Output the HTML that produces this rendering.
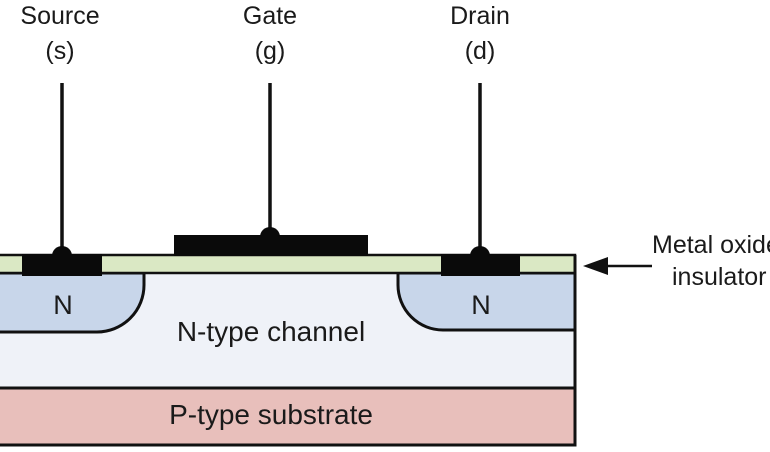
<!DOCTYPE html>
<html><head><meta charset="utf-8"><style>html,body{margin:0;padding:0;background:#fff}svg{display:block}</style></head>
<body>
<svg width="770" height="452" viewBox="0 0 770 452" xmlns="http://www.w3.org/2000/svg" font-family="Liberation Sans, sans-serif" fill="#1a1a1a">
<rect x="-5" y="273" width="580" height="115" fill="#eff2f8"/>
<rect x="-5" y="388" width="580" height="57" fill="#e8bfbb" stroke="#111" stroke-width="3"/>
<path d="M-5 273 H144 V285 A47 47 0 0 1 97 332 H-5 Z" fill="#c8d6ea" stroke="#111" stroke-width="3"/>
<path d="M575 273 H398 V285 A45 45 0 0 0 443 330 H575 Z" fill="#c8d6ea" stroke="#111" stroke-width="3"/>
<rect x="-5" y="255" width="580" height="18" fill="#dae8c4" stroke="#111" stroke-width="2.5"/>
<line x1="575" y1="255" x2="575" y2="445" stroke="#111" stroke-width="3"/>
<rect x="22" y="254" width="80" height="22" fill="#0a0a0a"/>
<rect x="441" y="254" width="79" height="22" fill="#0a0a0a"/>
<rect x="174" y="235" width="194" height="21" fill="#0a0a0a"/>
<line x1="62" y1="83" x2="62" y2="255" stroke="#111" stroke-width="3.5"/>
<line x1="270" y1="83" x2="270" y2="236" stroke="#111" stroke-width="3.5"/>
<line x1="480" y1="83" x2="480" y2="255" stroke="#111" stroke-width="3.5"/>
<circle cx="62" cy="256" r="10" fill="#0a0a0a"/>
<circle cx="270" cy="237" r="10" fill="#0a0a0a"/>
<circle cx="480" cy="256" r="10" fill="#0a0a0a"/>
<line x1="605" y1="266" x2="652" y2="266" stroke="#111" stroke-width="2.5"/>
<polygon points="583,266 608,257 608,275" fill="#111"/>
<g text-anchor="middle">
<text x="60" y="24" font-size="25">Source</text>
<text x="60" y="59" font-size="25">(s)</text>
<text x="270" y="24" font-size="25">Gate</text>
<text x="270" y="59" font-size="25">(g)</text>
<text x="480" y="24" font-size="25">Drain</text>
<text x="480" y="59" font-size="25">(d)</text>
<text x="63" y="314" font-size="27">N</text>
<text x="481" y="314" font-size="27">N</text>
<text x="271" y="341" font-size="28">N-type channel</text>
<text x="271" y="424" font-size="28">P-type substrate</text>
</g>
<text x="652" y="253" font-size="25">Metal oxide</text>
<text x="672" y="285" font-size="25">insulator</text>
</svg>
</body></html>
